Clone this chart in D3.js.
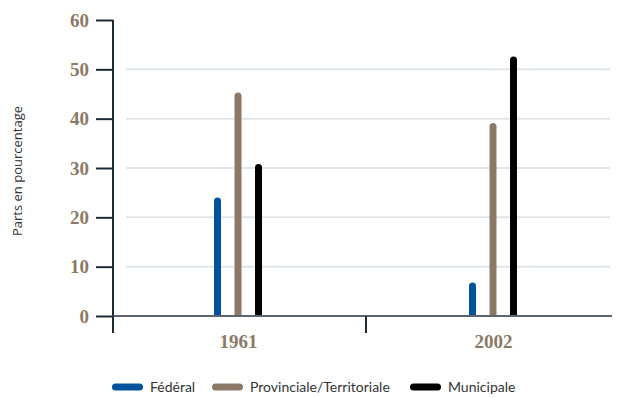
<!DOCTYPE html>
<html>
<head>
<meta charset="utf-8">
<script src="https://cdn.jsdelivr.net/npm/d3@7"></script>
<style>
  body { margin: 0; background: #fff; }
</style>
</head>
<body>
<svg id="chart"></svg>
<script>
// Parts en pourcentage, 1961 vs 2002
const years = ["1961", "2002"];
const series = ["Fédéral", "Provinciale/Territoriale", "Municipale"];
const federal = [24, 6.8];
const provincial = [45.3, 39.1];
const municipal = [30.8, 52.6];
const yTicks = [0, 10, 20, 30, 40, 50, 60];

const colors = ["#00539b", "#8b7866", "#000000"];
const values = [federal, provincial, municipal];

const W = 620, H = 398;
const svg = d3.select("#chart").attr("width", W).attr("height", H);

const y = d3.scaleLinear().domain([0, 60]).range([316, 20]);
const x = d3.scaleBand().domain(years).range([111, 621]);
const xs = d3.scalePoint().domain(series).range([-21, 20]);

// gridlines
svg.append("g")
    .selectAll("line")
    .data(yTicks.filter(d => d > 0 && d < 60))
    .enter().append("line")
    .attr("x1", 126).attr("x2", 610)
    .attr("y1", d => y(d)).attr("y2", d => y(d))
    .attr("stroke", "#e1e5e9")
    .attr("stroke-width", 2);

// y axis
const yAxis = svg.append("g")
    .attr("transform", "translate(113,0)")
    .call(d3.axisLeft(y).tickValues(yTicks).tickSize(17).tickPadding(7));
yAxis.select(".domain").remove();
yAxis.selectAll(".tick line").attr("stroke", "#1c2a38").attr("stroke-width", 2);
yAxis.selectAll(".tick text")
    .attr("fill", "#8b7866")
    .style("font-family", "'Liberation Serif', serif")
    .style("font-weight", "bold")
    .style("font-size", "19px");

svg.append("line")
    .attr("x1", 113).attr("x2", 113)
    .attr("y1", y(60)).attr("y2", 333)
    .attr("stroke", "#1c2a38").attr("stroke-width", 2);

// bars
years.forEach(function (yr, i) {
    series.forEach(function (s, j) {
        const cx = x(yr) + x.bandwidth() / 2 + xs(s);
        const top = y(values[j][i]);
        const r = 3.5;
        svg.append("path")
            .attr("d", `M${cx - r},${y(0)} L${cx - r},${top + r} A${r},${r} 0 0 1 ${cx + r},${top + r} L${cx + r},${y(0)} Z`)
            .attr("fill", colors[j]);
    });
});

// zero line
svg.append("line")
    .attr("x1", 113).attr("x2", 612)
    .attr("y1", y(0)).attr("y2", y(0))
    .attr("stroke", "#5b6670").attr("stroke-width", 2);

// x axis ticks (between groups)
[x.range()[0] + 2, x("2002")].forEach(function (px) {
    svg.append("line")
        .attr("x1", px).attr("x2", px)
        .attr("y1", y(0)).attr("y2", 333)
        .attr("stroke", "#1c2a38").attr("stroke-width", 2);
});

svg.selectAll(".xlabel")
    .data(years)
    .enter().append("text")
    .attr("class", "xlabel")
    .attr("x", d => x(d) + x.bandwidth() / 2)
    .attr("y", 348)
    .attr("text-anchor", "middle")
    .attr("fill", "#8b7866")
    .style("font-family", "'Liberation Serif', serif")
    .style("font-weight", "bold")
    .style("font-size", "19px")
    .text(d => d);

// y title
svg.append("text")
    .attr("transform", "translate(22,171) rotate(-90)")
    .attr("text-anchor", "middle")
    .attr("fill", "#333")
    .style("font-family", "'Open Sans', sans-serif")
    .style("font-size", "13px")
    .text("Parts en pourcentage");

// legend
const legendX = [112, 212, 410];
const legend = svg.selectAll(".legend")
    .data(series)
    .enter().append("g")
    .attr("class", "legend")
    .attr("transform", (d, i) => `translate(${legendX[i]},387)`);

legend.append("rect")
    .attr("x", 0).attr("y", -3.5)
    .attr("width", 31).attr("height", 7)
    .attr("rx", 3.5)
    .attr("fill", (d, i) => colors[i]);

legend.append("text")
    .attr("x", 38)
    .attr("y", 0)
    .attr("dy", ".35em")
    .attr("fill", "#333")
    .style("font-family", "Lato, sans-serif")
    .style("font-size", "14px")
    .text(d => d);
</script>
</body>
</html>
